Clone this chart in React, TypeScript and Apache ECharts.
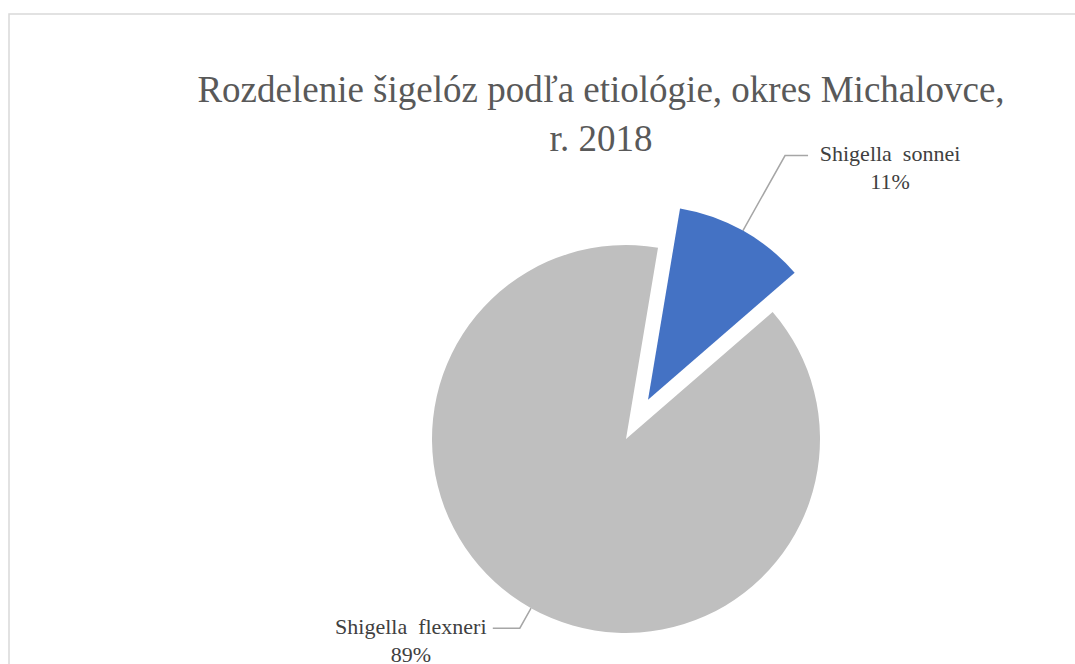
import React, { useEffect, useRef } from "react";
import * as echarts from "echarts";

const titleLines = ["Rozdelenie šigelóz podľa etiológie, okres Michalovce,", "r. 2018"];
const categories = ["Shigella sonnei", "Shigella flexneri"];
const values = [11, 89];
const colors = ["#4472C4", "#BFBFBF"];
const exploded = [true, false];
const lineLengths = [
  [86, 23],
  [23, 27],
];

export default function App() {
  const ref = useRef<HTMLDivElement>(null);
  useEffect(() => {
    if (!ref.current) return;
    const chart = echarts.init(ref.current, null, { renderer: "svg" });
    const font = "'Liberation Serif', 'Times New Roman', serif";
    chart.setOption({
      animation: false,
      backgroundColor: "#ffffff",
      graphic: [
        {
          type: "rect",
          z: -10,
          shape: { x: 9, y: 14, width: 1200, height: 800 },
          style: { fill: "none", stroke: "#D9D9D9", lineWidth: 1.5 },
          silent: true,
        },
        {
          type: "text",
          x: 601,
          y: 89,
          style: {
            text: titleLines[0],
            fill: "#595959",
            font: `37px ${font}`,
            textAlign: "center",
            textVerticalAlign: "middle",
          },
        },
        {
          type: "text",
          x: 601,
          y: 138,
          style: {
            text: titleLines[1],
            fill: "#595959",
            font: `37px ${font}`,
            textAlign: "center",
            textVerticalAlign: "middle",
          },
        },
      ],
      series: [
        {
          type: "pie",
          center: [626, 439],
          radius: 194,
          startAngle: 80.5,
          clockwise: true,
          avoidLabelOverlap: false,
          selectedMode: "single",
          selectedOffset: 45,
          emphasis: { disabled: true },
          label: {
            show: true,
            position: "outside",
            distanceToLabelLine: 6,
            padding: [24, 0, 0, 0],
            formatter: (p: any) =>
              `{t|${String(p.name).replace(" ", "  ")}}\n{t|${p.value}%}`,
            rich: {
              t: {
                width: 152,
                align: "center",
                fontFamily: font,
                fontSize: 22,
                lineHeight: 28,
                color: "#404040",
              },
            },
          },
          labelLine: {
            show: true,
            smooth: false,
            lineStyle: { color: "#A6A6A6", width: 1.5 },
          },
          data: categories.map((name, i) => ({
            name,
            value: values[i],
            selected: exploded[i],
            itemStyle: { color: colors[i] },
            labelLine: { length: lineLengths[i][0], length2: lineLengths[i][1] },
          })),
        },
      ],
    });
    return () => chart.dispose();
  }, []);
  return (
    <div
      ref={ref}
      style={{ position: "absolute", left: 0, top: 0, width: 1075, height: 664 }}
    />
  );
}
